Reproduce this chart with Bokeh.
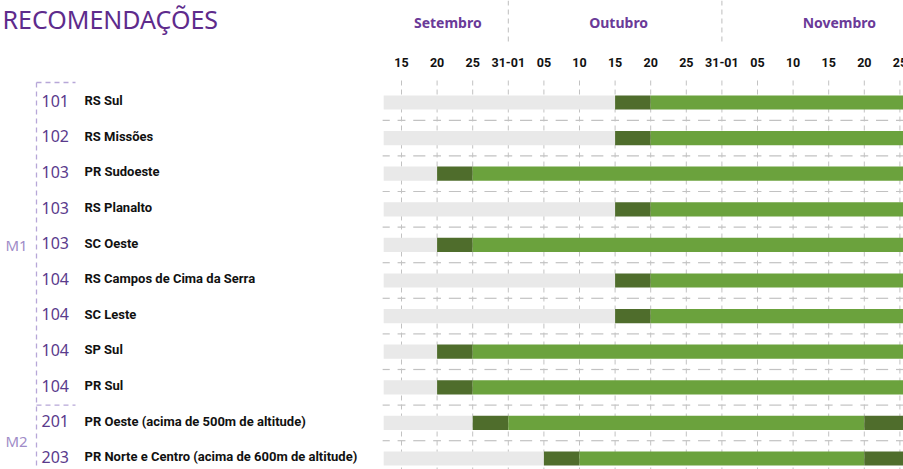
from bokeh.plotting import figure
from bokeh.models import Range1d
from bokeh.core.properties import value
from bokeh.embed import file_html
from bokeh.resources import INLINE

# ---- data ----
title = "RECOMENDAÇÕES"
codes = ["101", "102", "103", "103", "103", "104", "104", "104", "104", "201", "203"]
names = ["RS Sul", "RS Missões", "PR Sudoeste", "RS Planalto", "SC Oeste",
         "RS Campos de Cima da Serra", "SC Leste", "SP Sul", "PR Sul",
         "PR Oeste (acima de 500m de altitude)",
         "PR Norte e Centro (acima de 600m de altitude)"]
groups = ["M1", "M2"]
group_rows = [4, 9.5]
group_split = 8.5
tick_labels = ["15", "20", "25", "31-01", "05", "10", "15", "20", "25", "31-01",
               "05", "10", "15", "20", "25"]
months = ["Setembro", "Outubro", "Novembro"]
month_centers = [1.3, 6.1, 12.3]
month_bounds = [3, 9]
# periods as tick index (each step = 5 days)
grey_start = [-0.5] * 11
grey_end = [6, 6, 1, 6, 1, 6, 6, 1, 1, 2, 4]
dark_end = [7, 7, 2, 7, 2, 7, 7, 2, 2, 3, 5]
green_end = [15, 15, 15, 15, 15, 15, 15, 15, 15, 13, 13]
late_start = [None] * 9 + [13, 13]
late_end = [None] * 9 + [15, 15]

# ---- figure ----
W, HGT = 903, 469
PX = 35.6
PY = 35.6
OX = 401
OY = 102
x0 = -OX / PX
x1 = (W - OX) / PX
ytop = -OY / PY
ybot = (HGT - OY) / PY

def xr(px):
    return (px - OX) / PX

def yr(py):
    return (py - OY) / PY

p = figure(width=W, height=HGT, output_backend="svg", toolbar_location=None,
           x_range=Range1d(x0, x1), y_range=Range1d(ybot, ytop), min_border=0)
p.axis.visible = False
p.grid.visible = False
p.outline_line_color = None
p.min_border_left = p.min_border_right = p.min_border_top = p.min_border_bottom = 0

rows = list(range(len(codes)))
ticks = list(range(len(tick_labels)))

GRID = "#c2c2c2"
# vertical dashed grid
p.segment(x0=ticks, x1=ticks, y0=[yr(80)] * len(ticks), y1=[ybot] * len(ticks),
          line_color=GRID, line_width=1, line_dash="5 4")
# horizontal separators: cross at ticks, dash in between
hx0, hx1, hy = [], [], []
for r in range(len(codes) - 1):
    yy = r + 0.5
    for t in range(-1, len(ticks) + 1):
        for a, b in [(t - 0.11, t + 0.11), (t + 0.5 - 0.17, t + 0.5 + 0.17)]:
            a = max(a, -0.53)
            if b > a:
                hx0.append(a); hx1.append(b); hy.append(yy)
p.segment(x0=hx0, x1=hx1, y0=hy, y1=hy, line_color=GRID, line_width=1.2)

# bars
H = 0.40
p.hbar(y=rows, left=grey_start, right=grey_end, height=H, fill_color="#e9e9e9", line_color=None)
p.hbar(y=rows, left=grey_end, right=dark_end, height=H, fill_color="#4f6d2c", line_color=None)
p.hbar(y=rows, left=dark_end, right=green_end, height=H, fill_color="#6ba23d", line_color=None)
lr = [r for r in rows if late_start[r] is not None]
p.hbar(y=lr, left=[late_start[r] for r in lr], right=[late_end[r] for r in lr], height=H,
       fill_color="#4f6d2c", line_color=None)

# month separators
p.segment(x0=month_bounds, x1=month_bounds, y0=[ytop] * 2, y1=[yr(45)] * 2,
          line_color="#bdbdbd", line_width=1, line_dash="5 4")

# texts
p.text(x=[xr(2)], y=[yr(18)], text=[title], text_font=value("Noto Sans"),
       text_font_size="25px", text_color="#5e2b8c", text_baseline="alphabetic", text_align="left")
p.text(x=month_centers, y=[yr(22)] * 3, text=months, text_font=value("Noto Sans"),
       text_font_size="14px", text_font_style="bold", text_color="#6a3a98",
       text_baseline="middle", text_align="center")
p.text(x=ticks, y=[yr(62)] * len(ticks), text=tick_labels, text_font=value("Roboto"),
       text_font_size="12.5px", text_font_style="bold", text_color="#111111",
       text_baseline="middle", text_align="center")
p.text(x=[xr(41)] * len(rows), y=[r - 0.05 for r in rows], text=codes,
       text_font=value("Noto Sans"), text_font_size="16px", text_color="#5a3a8c",
       text_baseline="middle", text_align="left")
p.text(x=[xr(84)] * len(rows), y=[r - 0.05 for r in rows], text=names,
       text_font=value("Roboto"), text_font_size="13px", text_font_style="bold",
       text_color="#111111", text_baseline="middle", text_align="left")
p.text(x=[xr(5)] * 2, y=group_rows, text=groups, text_font=value("Noto Sans"),
       text_font_size="15px", text_color="#a08cc8", text_baseline="middle", text_align="left")

# bracket
bx = xr(36)
bx2 = xr(75)
p.segment(x0=[bx], x1=[bx], y0=[yr(82)], y1=[ybot], line_color="#b7a7d8", line_width=1.3, line_dash="5 4")
p.segment(x0=[bx, bx], x1=[bx2, bx2], y0=[yr(82), group_split], y1=[yr(82), group_split],
          line_color="#b7a7d8", line_width=1.3, line_dash="5 4")

open("out.html", "w").write(file_html(p, INLINE))
